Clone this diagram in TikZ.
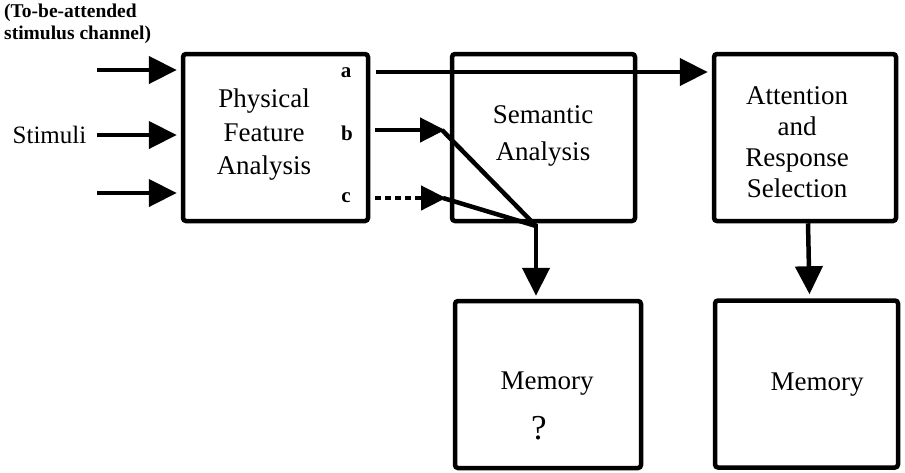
\documentclass[tikz,border=0pt]{standalone}
\usepackage{fontspec}
\setmainfont{Liberation Serif}
\usetikzlibrary{arrows.meta}
\begin{document}
\begin{tikzpicture}[x=1pt,y=-1pt,
  box/.style={draw, line width=4.5pt, rounded corners=3pt, inner sep=0pt},
  lbl/.style={align=center, inner sep=0pt},
  chan/.style={font=\bfseries\fontsize{19.5}{22}\selectfont, align=left, inner sep=0pt},
  port/.style={font=\bfseries\fontsize{21}{22}\selectfont, inner sep=0pt},
  conn/.style={line width=4.5pt, -{Triangle[length=28pt,width=27pt]}},
  sconn/.style={line width=4.5pt, -{Triangle[length=25pt,width=24pt]}},
  plain/.style={line width=4.5pt, line join=round}]
\useasboundingbox (0,0) rectangle (905,472);
% boxes
\node[box, minimum width=185pt, minimum height=167pt] (pf) at (275.5,137.5) {};
\node[box, minimum width=183pt, minimum height=167pt] (sem) at (543.5,137.5) {};
\node[box, minimum width=182pt, minimum height=167pt] (att) at (805,137.5) {};
\node[box, minimum width=186pt, minimum height=167pt] (mem1) at (548,384.5) {};
\node[box, minimum width=183pt, minimum height=167pt] (mem2) at (806.5,384) {};
% texts
\node[lbl, font=\fontsize{27}{33.5}\selectfont] (pft) at (264,135) {Physical\\Feature\\Analysis};
\node[lbl, font=\fontsize{27}{37}\selectfont] (semt) at (543,136) {Semantic\\Analysis};
\node[lbl, font=\fontsize{27}{31}\selectfont] (attt) at (797,142) {Attention\\and\\Response\\Selection};
\node[lbl, font=\fontsize{27}{31}\selectfont] (m1t) at (547,384) {Memory};
\node[lbl, font=\fontsize{35}{40}\selectfont] (m1q) at (539,428) {?};
\node[lbl, font=\fontsize{27}{31}\selectfont] (m2t) at (817,385) {Memory};
\node[lbl, font=\fontsize{25}{30}\selectfont] (stim) at (49.5,135) {Stimuli};
\node[chan, anchor=north west] (chl) at (4,4) {(To-be-attended\\stimulus channel)};
\node[port] (pa) at (346,73) {a};
\node[port] (pb) at (347,133) {b};
\node[port] (pc) at (346,198) {c};
% inputs
\coordinate (in1) at (97,70);
\coordinate (in3) at (97,193);
\draw[conn] (in1) -- ([xshift=-4pt]pf.west |- in1);
\draw[conn] ([xshift=10pt]stim.east) -- ([xshift=-4pt]pf.west |- stim.east);
\draw[conn] (in3) -- ([xshift=-4pt]pf.west |- in3);
% outputs
\coordinate (aS) at (376,72);
\coordinate (bS) at (375,130);
\coordinate (bE) at (445,130);
\coordinate (cS) at (375,198);
\coordinate (cE) at (446,198);
\coordinate (jn) at (536,226);
\draw[conn] (aS) -- ([xshift=-4pt]att.west |- aS);
\draw[sconn] (bS) -- (bE);
\draw[sconn, dash pattern=on 6pt off 4pt] (cS) -- (cE);
\draw[plain] ([xshift=-3pt]bE) -- (jn);
\draw[plain] ([xshift=-3pt]cE) -- (jn);
\draw[conn] ([yshift=2pt]jn) -- ([yshift=3pt]jn |- mem1.north);
\draw[conn] ([xshift=3pt]att.south) -- ([xshift=3pt,yshift=4pt]mem2.north);
\end{tikzpicture}
\end{document}
